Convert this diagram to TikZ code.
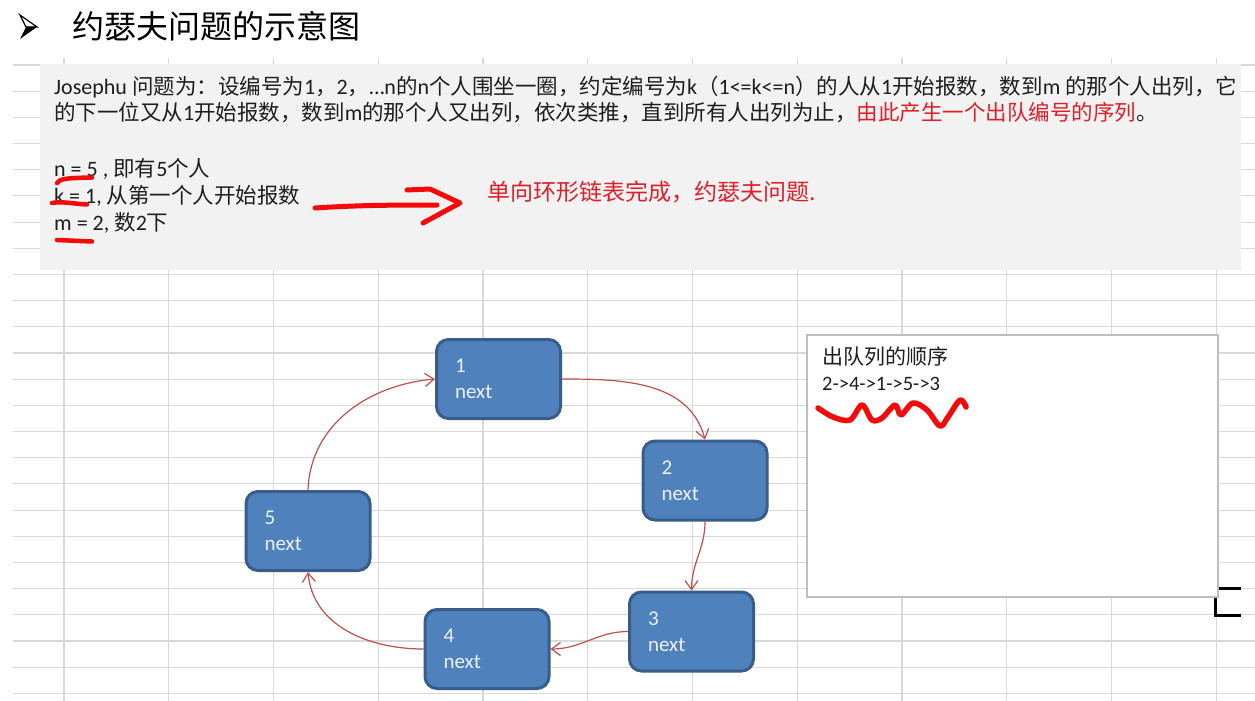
\documentclass[tikz,border=0pt]{standalone}
\usepackage{fontspec}
\setmainfont{Carlito}
\newfontfamily\cjk{Noto Sans CJK SC}
\usetikzlibrary{arrows.meta}
\definecolor{nodefill}{RGB}{79,129,189}
\definecolor{nodeborder}{RGB}{56,93,138}
\definecolor{connc}{RGB}{192,80,77}
\definecolor{gridc}{RGB}{217,217,217}
\definecolor{greybg}{RGB}{242,242,242}
\definecolor{redpenc}{RGB}{245,10,10}
\definecolor{redtxt}{RGB}{225,30,40}
\definecolor{txtc}{RGB}{30,30,30}
\definecolor{nodetxt}{RGB}{236,241,248}
\definecolor{boxborder}{RGB}{190,190,190}
\begin{document}
\begin{tikzpicture}[x=1pt,y=-1pt,
  gridline/.style={draw=gridc,line width=1.1pt},
  txt/.style={inner sep=0pt,anchor=base west,text=txtc,font=\fontsize{22}{26}\selectfont},
  redpen/.style={draw=redpenc,line width=4.5pt,line cap=round,line join=round},
  nodebox/.style={rectangle,rounded corners=12pt,fill=nodefill,draw=nodeborder,line width=3pt,
    minimum width=124pt,minimum height=79pt,inner xsep=0pt,inner ysep=0pt,text width=87pt,
    align=left,text=nodetxt,font=\fontsize{21}{26}\selectfont},
  conn/.style={draw=connc,line width=1.2pt,-{Straight Barb[length=9pt,width=13pt]}}]
\useasboundingbox (0,0) rectangle (1255,701);
\fill[white] (0,0) rectangle (1255,701);
% spreadsheet grid
\foreach \k in {0,...,24} \draw[gridline] (13,{65+26.18*\k}) -- (1255,{65+26.18*\k});
\foreach \k in {0,...,11} \draw[gridline] ({64+104.75*\k},58) -- ({64+104.75*\k},701);
% title
\draw[line width=1.2pt,line join=miter] (20,15) -- (37,27) -- (26,27) -- cycle;
\fill[black] (26,27) -- (37,27) -- (20,39) -- cycle;
\node[inner sep=0pt,anchor=base west,font=\cjk\fontsize{32}{36}\selectfont] (title) at (72,39) {约瑟夫问题的示意图};
% grey text block
\fill[greybg] (40,64) rectangle (1241,269.5);
\node[txt] (l1) at (54,94.5) {Josephu {\cjk\fontsize{21.5}{26}\selectfont 问题为：设编号为}1{\cjk\fontsize{21.5}{26}\selectfont ，}2{\cjk\fontsize{21.5}{26}\selectfont ，}…n{\cjk\fontsize{21.5}{26}\selectfont 的}n{\cjk\fontsize{21.5}{26}\selectfont 个人围坐一圈，约定编号为}k{\cjk\fontsize{21.5}{26}\selectfont （}1<=k<=n{\cjk\fontsize{21.5}{26}\selectfont ）的人从}1{\cjk\fontsize{21.5}{26}\selectfont 开始报数，数到}m {\cjk\fontsize{21.5}{26}\selectfont 的那个人出列，它}};
\node[txt] (l2) at (54,120.5) {{\cjk\fontsize{21.5}{26}\selectfont 的下一位又从}1{\cjk\fontsize{21.5}{26}\selectfont 开始报数，数到}m{\cjk\fontsize{21.5}{26}\selectfont 的那个人又出列，依次类推，直到所有人出列为止，}{\cjk\fontsize{21.5}{26}\selectfont\color{redtxt}由此产生一个出队编号的序列}{\cjk\fontsize{21.5}{26}\selectfont 。}};
\node[txt] (l3) at (54,176.5) {n = 5 , {\cjk\fontsize{21.5}{26}\selectfont 即有}5{\cjk\fontsize{21.5}{26}\selectfont 个人}};
\node[txt] (l4) at (54,203.5) {k = 1, {\cjk\fontsize{21.5}{26}\selectfont 从第一个人开始报数}};
\node[txt] (l5) at (54,230.5) {m = 2, {\cjk\fontsize{21.5}{26}\selectfont 数}2{\cjk\fontsize{21.5}{26}\selectfont 下}};
\node[inner sep=0pt,anchor=base west,text=redtxt,font=\cjk\fontsize{23}{26}\selectfont] (note) at (487,200.5) {单向环形链表完成，约瑟夫问题.};
% red hand marks
\draw[redpen] (57,183) .. controls (60,179) and (64,178) .. (92,177.5);
\draw[redpen] (52,203) .. controls (62,201) and (75,204) .. (87,204.5);
\draw[redpen] (57,240) -- (92,241.5);
\draw[redpen,line width=5pt] (315,208) .. controls (360,205) and (400,205) .. (437,205);
\draw[redpen,line width=5pt] (407,190) -- (430,189) -- (460,203) -- (423,223);
% right box
\draw[line width=3pt,black] (1241,588) -- (1215,588) -- (1215,615) -- (1241,615);
\filldraw[fill=white,draw=boxborder,line width=1.2pt] (807,335) rectangle (1218,597);
\node[inner sep=0pt,anchor=base west,text=txtc,font=\cjk\fontsize{21}{26}\selectfont] (bt) at (822,364) {出队列的顺序};
\node[inner sep=0pt,anchor=base west,text=txtc,font=\fontsize{20.5}{24}\selectfont] (bs) at (822,390.5) {2->4->1->5->3};
\draw[redpen,line width=5.5pt] plot[smooth,tension=0.55] coordinates {(818,408) (833,417) (850,420) (862,405) (872,420) (882,418) (895,405) (901,415) (913,403) (927,410) (940,426) (948,417) (960,400) (966,407)};
% nodes
\node[nodebox] (n1) at (498.5,379) {1\\next};
\node[nodebox] (n2) at (705,480.5) {2\\next};
\node[nodebox] (n3) at (691.5,631.5) {3\\next};
\node[nodebox] (n4) at (487,649) {4\\next};
\node[nodebox] (n5) at (308,531) {5\\next};
% connectors
\draw[conn] (n1.east) to[out=0,in=105] (n2.north);
\draw[conn] (n2.south) to[out=-90,in=90] (n3.north);
\draw[conn] (n3.west) to[out=180,in=0] (n4.east);
\draw[conn] (n4.west) to[out=180,in=-85] (n5.south);
\draw[conn] (n5.north) to[out=88,in=185] (n1.west);
\end{tikzpicture}
\end{document}
